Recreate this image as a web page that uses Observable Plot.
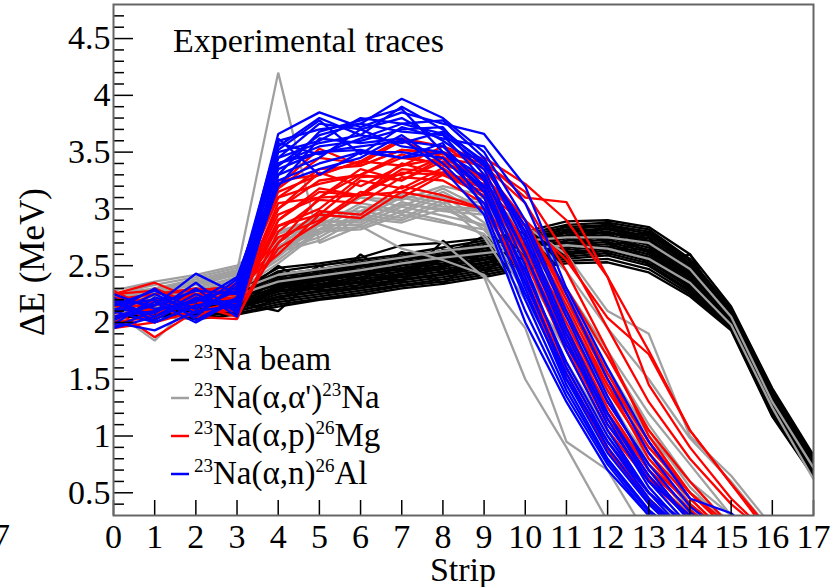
<!DOCTYPE html>
<html><head><meta charset="utf-8">
<script src="https://cdn.jsdelivr.net/npm/d3@7"></script>
<script src="https://cdn.jsdelivr.net/npm/@observablehq/plot@0.6"></script>
<style>
body{margin:0;background:#fff;}
svg{font-family:"Liberation Serif","Times New Roman",serif;}
</style>
</head><body><div id="chart"></div>
<script>
// ---------- data ----------
const strips = [0,1,2,3,4,5,6,7,8,9,10,11,12,13,14,15,16,17];

// 23Na beam (black)
const beamTraces = [
 [2.22,2.20,2.25,2.28,2.48,2.52,2.57,2.68,2.70,2.74,2.80,2.89,2.90,2.84,2.60,2.14,1.42,0.83],
 [2.20,2.22,2.20,2.26,2.45,2.50,2.55,2.60,2.66,2.72,2.78,2.86,2.88,2.82,2.56,2.12,1.40,0.82],
 [2.18,2.20,2.22,2.25,2.42,2.47,2.53,2.58,2.63,2.70,2.76,2.84,2.86,2.80,2.55,2.10,1.38,0.80],
 [2.15,2.18,2.20,2.24,2.40,2.46,2.50,2.56,2.62,2.68,2.74,2.82,2.85,2.78,2.52,2.09,1.36,0.79],
 [2.20,2.15,2.18,2.22,2.38,2.44,2.49,2.55,2.60,2.66,2.73,2.80,2.83,2.76,2.50,2.08,1.35,0.78],
 [2.12,2.16,2.17,2.22,2.37,2.42,2.47,2.53,2.58,2.65,2.71,2.79,2.82,2.74,2.48,2.07,1.33,0.77],
 [2.14,2.13,2.20,2.20,2.35,2.40,2.46,2.52,2.57,2.63,2.70,2.77,2.80,2.72,2.46,2.06,1.32,0.76],
 [2.10,2.15,2.14,2.21,2.34,2.39,2.44,2.50,2.55,2.62,2.68,2.76,2.79,2.70,2.44,2.05,1.30,0.75],
 [2.16,2.10,2.16,2.18,2.32,2.38,2.43,2.48,2.54,2.60,2.67,2.74,2.77,2.68,2.42,2.04,1.29,0.74],
 [2.12,2.12,2.12,2.19,2.31,2.36,2.42,2.47,2.52,2.59,2.65,2.72,2.75,2.66,2.40,2.03,1.28,0.73],
 [2.08,2.14,2.15,2.16,2.30,2.34,2.40,2.45,2.50,2.57,2.63,2.70,2.73,2.64,2.38,2.02,1.27,0.72],
 [2.10,2.08,2.10,2.17,2.28,2.33,2.38,2.43,2.49,2.55,2.62,2.68,2.71,2.62,2.36,2.01,1.26,0.71],
 [2.13,2.10,2.13,2.15,2.27,2.31,2.36,2.42,2.47,2.53,2.60,2.66,2.69,2.60,2.34,2.00,1.25,0.70],
 [2.07,2.12,2.08,2.14,2.25,2.30,2.35,2.40,2.45,2.52,2.58,2.64,2.67,2.58,2.33,1.99,1.24,0.70],
 [2.10,2.06,2.11,2.13,2.23,2.28,2.33,2.38,2.43,2.50,2.56,2.62,2.65,2.56,2.31,1.98,1.23,0.69],
 [2.05,2.09,2.06,2.12,2.22,2.27,2.31,2.37,2.42,2.48,2.55,2.60,2.63,2.54,2.30,1.97,1.22,0.68],
 [2.08,2.05,2.10,2.10,2.20,2.25,2.30,2.35,2.40,2.46,2.53,2.58,2.61,2.52,2.28,1.96,1.21,0.67],
 [2.06,2.08,2.04,2.10,2.18,2.23,2.28,2.33,2.38,2.44,2.51,2.56,2.59,2.50,2.27,1.95,1.20,0.66],
 [2.05,2.05,2.07,2.08,2.16,2.21,2.26,2.32,2.36,2.42,2.49,2.54,2.56,2.47,2.25,1.94,1.18,0.65],
 [2.04,2.06,2.03,2.07,2.14,2.20,2.24,2.30,2.34,2.40,2.47,2.52,2.53,2.44,2.23,1.93,1.17,0.64],
 [2.15,2.12,2.20,2.18,2.10,2.42,2.30,2.52,2.34,2.62,2.56,2.82,2.60,2.75,2.30,2.06,1.30,0.75],
 [2.20,2.18,2.05,2.22,2.50,2.28,2.60,2.35,2.72,2.42,2.80,2.55,2.90,2.50,2.60,2.00,1.35,0.78],
 [2.12,2.16,2.10,2.20,2.44,2.36,2.50,2.45,2.60,2.55,2.70,2.68,2.78,2.62,2.42,2.02,1.28,0.72],
 [2.18,2.10,2.18,2.14,2.28,2.46,2.38,2.62,2.50,2.68,2.60,2.80,2.72,2.80,2.50,2.08,1.34,0.77],
 [2.08,2.20,2.12,2.24,2.33,2.30,2.52,2.40,2.48,2.66,2.52,2.72,2.84,2.68,2.38,2.00,1.24,0.69],
 [2.14,2.04,2.16,2.12,2.40,2.32,2.36,2.58,2.44,2.50,2.74,2.60,2.66,2.78,2.54,2.10,1.37,0.80],
 [2.06,2.14,2.08,2.16,2.20,2.38,2.44,2.36,2.64,2.46,2.62,2.86,2.70,2.56,2.44,1.99,1.22,0.68],
 [2.20,2.08,2.22,2.10,2.30,2.50,2.34,2.42,2.58,2.76,2.58,2.64,2.88,2.70,2.28,1.96,1.20,0.66]
];

// 23Na(a,a')23Na (grey)
const inelasticTraces = [
 [2.20,2.26,2.30,2.45,4.20,2.70,2.85,2.65,2.55,2.42,1.95,0.95,0.70,0.10],
 [2.28,2.36,2.42,2.50,2.78,2.90,3.10,3.02,3.18,3.00,2.75,2.20,1.60,0.95,0.40,0.10],
 [2.25,2.33,2.40,2.48,2.70,2.98,2.95,3.12,3.05,3.10,2.85,2.60,2.10,1.90,1.00,0.65,0.20],
 [2.22,2.30,2.38,2.46,2.75,2.85,3.05,2.98,3.15,2.95,2.70,2.30,1.75,1.20,0.75,0.30,0.10],
 [2.20,2.28,2.35,2.44,2.66,2.95,2.92,3.10,3.02,3.00,2.60,2.10,1.55,1.05,0.55,0.20],
 [2.18,2.26,2.33,2.42,2.72,2.82,3.02,2.96,3.12,2.88,2.50,1.95,1.40,0.85,0.35,0.10],
 [2.16,2.24,2.30,2.40,2.60,2.90,2.88,3.06,2.98,2.95,2.45,1.85,1.25,0.70,0.25],
 [2.15,2.22,2.28,2.38,2.68,2.78,2.98,2.92,3.08,2.82,2.35,1.75,1.15,0.60,0.20],
 [2.13,2.20,2.26,2.36,2.58,2.86,2.86,3.02,2.94,2.86,2.25,1.65,1.05,0.50,0.15],
 [2.12,2.18,2.24,2.34,2.64,2.75,2.95,2.90,3.05,2.75,2.20,1.60,1.00,0.45,0.10],
 [2.10,2.16,2.22,2.32,2.55,2.82,2.84,2.98,2.90,2.78,2.30,1.80,1.30,0.80,0.40,0.10],
 [2.08,2.14,2.20,2.30,2.62,2.72,2.92,2.88,3.00,2.85,2.55,2.05,1.50,0.90,0.50,0.25],
 [2.07,2.12,2.18,2.28,2.52,2.80,2.82,2.95,2.88,2.82,2.45,1.90,1.35,0.75,0.30],
 [2.25,2.30,2.36,2.45,2.80,2.92,3.10,3.08,3.20,3.12,2.80,2.45,1.95,1.50,0.98,0.60,0.15],
 [2.20,2.28,2.34,2.43,2.74,2.96,2.98,3.14,3.10,3.05,2.65,2.15,1.60,1.00,0.60,0.30],
 [2.10,1.84,2.20,2.30,2.58,2.88,2.90,3.04,3.00,2.98,2.65,2.25,1.70,1.10,0.60,0.20],
 [2.15,2.20,2.27,2.37,2.62,2.82,2.92,2.80,2.70,2.40,1.50,0.90,0.25],
 [2.20,2.22,2.25,2.28,2.42,2.47,2.52,2.57,2.63,2.67,2.72,2.75,2.75,2.70,2.47,2.05,1.30,0.72],
 [2.15,2.18,2.20,2.24,2.36,2.41,2.46,2.52,2.57,2.61,2.65,2.68,2.65,2.56,2.35,1.98,1.25,0.62]
];

// 23Na(a,p)26Mg (red)
const protonTraces = [
 [2.25,2.35,2.20,2.30,3.25,3.30,3.42,3.38,3.55,3.42,3.10,3.06,2.40,1.45,0.90,0.45,0.10],
 [2.20,2.25,2.28,2.32,3.20,3.53,3.38,3.52,3.48,3.45,3.22,2.90,2.40,1.75,1.05,0.58,0.15],
 [2.15,2.20,2.25,2.25,3.15,3.30,3.42,3.62,3.55,3.35,2.90,2.20,1.50,0.95,0.50,0.20],
 [2.10,2.30,2.15,2.28,3.10,3.22,3.30,3.48,3.38,3.30,2.80,2.10,1.40,0.85,0.45,0.10],
 [2.28,2.10,2.20,2.22,3.00,3.32,3.20,3.38,3.45,3.25,2.70,2.00,1.30,0.75,0.40,0.10],
 [2.05,2.15,2.22,2.20,2.95,3.10,3.35,3.25,3.42,3.20,2.65,1.90,1.20,0.70,0.35,0.05],
 [2.12,1.87,2.10,2.18,2.90,3.18,3.12,3.40,3.30,3.15,2.60,1.85,1.15,0.65,0.30],
 [2.00,2.05,2.18,2.15,2.85,2.95,3.25,3.18,3.36,3.10,2.55,1.75,1.05,0.60,0.28],
 [2.18,2.12,2.05,2.03,2.80,3.08,3.05,3.28,3.25,3.05,2.45,1.60,0.95,0.50,0.20],
 [2.08,2.20,2.12,2.28,2.75,2.90,3.15,3.10,3.30,3.12,2.70,2.05,1.45,0.90,0.50,0.15],
 [1.98,2.08,2.20,2.25,2.70,2.98,2.95,3.20,3.12,3.00,2.40,1.55,0.90,0.45,0.10],
 [2.22,2.18,2.10,2.12,2.65,2.88,3.12,3.15,3.32,3.18,2.85,2.30,1.70,1.05,0.60,0.20],
 [2.15,2.02,2.25,2.30,2.60,2.95,2.92,3.15,3.08,3.00,2.35,1.50,0.88,0.40,0.10],
 [2.05,2.12,2.05,2.20,3.05,3.10,3.30,3.25,3.45,3.28,2.90,2.25,1.55,0.95,0.45,0.10],
 [2.25,2.28,2.15,2.35,3.18,3.45,3.40,3.60,3.45,3.38,3.05,2.45,1.75,1.00,0.50,0.15],
 [1.95,2.00,2.10,2.10,2.90,3.15,3.12,3.32,3.30,3.20,2.60,1.80,1.10,0.62,0.30],
 [2.10,2.25,2.30,2.25,3.00,3.25,3.30,3.45,3.40,3.30,2.85,2.15,1.45,0.80,0.40,0.10],
 [2.20,2.10,2.15,2.05,2.70,3.10,3.12,3.35,3.32,3.22,2.90,2.55,2.04,1.72,1.05,0.58,0.10],
 [2.00,2.18,2.25,2.18,2.85,3.00,3.28,3.30,3.46,3.25,2.65,1.95,1.25,0.70,0.35,0.05],
 [2.15,2.05,2.28,2.32,3.10,3.35,3.38,3.52,3.50,3.40,3.15,2.60,1.95,1.30,0.80,0.40,0.10]
];

// 23Na(a,n)26Al (blue)
const neutronTraces = [
 [2.10,2.00,2.15,2.20,3.60,3.70,3.75,3.97,3.80,3.50,2.90,2.10,1.35,0.70,0.25],
 [2.20,2.15,2.43,2.25,3.66,3.85,3.72,3.85,3.75,3.66,3.20,2.30,1.60,0.95,0.45,0.32,0.00],
 [2.05,2.10,2.20,2.30,3.55,3.80,3.65,3.90,3.70,3.40,2.80,1.95,1.20,0.60,0.20],
 [2.00,1.93,2.10,2.15,3.50,3.60,3.80,3.75,3.78,3.45,2.75,1.90,1.15,0.55,0.15],
 [2.15,2.20,2.05,2.35,3.45,3.75,3.70,3.80,3.60,3.35,2.60,1.75,1.05,0.50,0.10],
 [1.95,2.05,2.25,2.10,3.40,3.55,3.60,3.70,3.72,3.30,2.50,1.60,0.95,0.45,0.10],
 [2.25,2.12,2.18,2.40,3.38,3.65,3.75,3.68,3.65,3.25,2.40,1.50,0.85,0.40,0.05],
 [2.02,2.18,2.00,2.20,3.35,3.50,3.55,3.60,3.55,3.20,2.30,1.45,0.80,0.35,0.05],
 [2.12,2.08,2.30,2.05,3.30,3.45,3.70,3.55,3.50,3.15,2.35,1.55,0.90,0.42,0.10],
 [1.98,2.22,2.12,2.28,3.25,3.40,3.50,3.50,3.45,3.10,2.20,1.40,0.78,0.33,0.05],
 [2.18,2.02,2.22,2.12,3.22,3.35,3.45,3.65,3.40,3.05,2.25,1.50,0.95,0.50,0.20],
 [2.08,2.25,2.08,2.32,3.62,3.30,3.50,3.45,3.58,3.00,2.10,1.35,0.75,0.30,0.00],
 [2.22,2.00,2.15,2.18,3.20,3.62,3.58,3.62,3.35,2.95,2.00,1.30,0.70,0.30],
 [2.05,2.15,2.28,2.25,3.52,3.78,3.48,3.72,3.62,3.55,3.05,2.25,1.50,0.85,0.38,0.10],
 [2.15,2.28,2.12,2.38,3.45,3.58,3.65,3.58,3.68,3.42,2.70,1.85,1.10,0.60,0.30],
 [1.96,2.10,2.35,2.08,3.30,3.68,3.78,3.88,3.50,3.28,2.60,1.80,1.20,0.65,0.25],
 [2.10,2.30,2.02,2.22,3.58,3.48,3.62,3.75,3.66,3.38,2.85,2.05,1.30,0.75,0.33,0.05],
 [2.20,2.05,2.20,2.15,3.40,3.50,3.52,3.45,3.50,3.18,2.45,1.65,1.00,0.50,0.20]
];

const xTicks = [0,1,2,3,4,5,6,7,8,9,10,11,12,13,14,15,16,17];
const yMajorTicks = [0.5,1,1.5,2,2.5,3,3.5,4,4.5];
const yMinorTicks = [0.4,0.6,0.7,0.8,0.9,1.1,1.2,1.3,1.4,1.6,1.7,1.8,1.9,2.1,2.2,2.3,2.4,2.6,2.7,2.8,2.9,3.1,3.2,3.3,3.4,3.6,3.7,3.8,3.9,4.1,4.2,4.3,4.4,4.6,4.7];

const groupNames = ["beam","inelastic","proton","neutron"];
const groupColors = ["#000000","#a0a0a0","#ff0000","#0000ff"];
const legendLabels = [
  [["sup","23"],["n","Na beam"]],
  [["sup","23"],["n","Na(\u03b1,\u03b1')"],["sup","23"],["n","Na"]],
  [["sup","23"],["n","Na(\u03b1,p)"],["sup","26"],["n","Mg"]],
  [["sup","23"],["n","Na(\u03b1,n)"],["sup","26"],["n","Al"]]
];
const titleText = "Experimental traces";
const xLabel = "Strip";
const yLabel = "\u0394E (MeV)";
const strayLabel = "7";

// ---------- build table ----------
const allGroups = [beamTraces, inelasticTraces, protonTraces, neutronTraces];
const rows = [];
allGroups.forEach((traces, g) => {
  traces.forEach((tr, i) => {
    tr.forEach((v, j) => rows.push({group: groupNames[g], id: groupNames[g] + i, strip: strips[j], dE: v}));
  });
});

const lineMarks = groupNames.map((name, g) =>
  Plot.line(rows.filter(d => d.group === name), {
    x: "strip", y: "dE", z: "id", stroke: groupColors[g],
    strokeWidth: 2.3, strokeLinejoin: "miter", strokeLinecap: "butt", clip: true
  })
);

const FONT = "'Liberation Serif', 'Times New Roman', serif";
const plot = Plot.plot({
  width: 835, height: 587,
  marginLeft: 113, marginRight: 22, marginTop: 4, marginBottom: 72,
  style: {fontFamily: FONT, background: "white", color: "black", overflow: "visible"},
  x: {domain: [0, 17]},
  y: {domain: [0.3, 4.8]},
  marks: [
    ...lineMarks,
    Plot.tickY(yMinorTicks, {y: d => d, insetRight: 689, stroke: "black", strokeWidth: 1.5}),
    Plot.tickY(yMajorTicks, {y: d => d, insetRight: 680, stroke: "black", strokeWidth: 1.5}),
    Plot.tickX(xTicks, {x: d => d, insetTop: 496, stroke: "black", strokeWidth: 1.5}),
    Plot.axisY(yMajorTicks, {tickSize: 0, tickPadding: 3, fontSize: 34, label: null, tickFormat: d => String(d)}),
    Plot.axisX(xTicks, {tickSize: 0, tickPadding: 8, fontSize: 34, label: null, tickFormat: d => String(d)}),
    Plot.frame({stroke: "#666666", strokeWidth: 2})
  ]
});

// ---------- free text: title, axis titles, legend ----------
const svg = d3.select(plot);
const tg = svg.append("g").attr("font-family", FONT).attr("fill", "black");
tg.append("text").attr("x", 173).attr("y", 52).attr("text-anchor", "start").attr("font-size", 34).text(titleText);
tg.append("text").attr("x", 463).attr("y", 581).attr("text-anchor", "middle").attr("font-size", 34).text(xLabel);
tg.append("text").attr("transform", "translate(44,262) rotate(-90)").attr("text-anchor", "middle").attr("font-size", 35).text(yLabel);
tg.append("text").attr("x", 10).attr("y", 547).attr("text-anchor", "end").attr("font-size", 34).text(strayLabel);

const legendBaselines = [370, 408, 446, 484];
legendLabels.forEach((parts, i) => {
  const yb = legendBaselines[i];
  tg.append("line").attr("x1", 171).attr("x2", 189).attr("y1", yb - 10).attr("y2", yb - 10)
    .attr("stroke", groupColors[i]).attr("stroke-width", 2.5);
  const t = tg.append("text").attr("x", 194).attr("y", yb).attr("text-anchor", "start").attr("font-size", 33);
  let raised = false;
  parts.forEach(([kind, str]) => {
    const ts = t.append("tspan").text(str);
    if (kind === "sup") { ts.attr("font-size", 19).attr("dy", raised ? 0 : -12); raised = true; }
    else { ts.attr("dy", raised ? 12 : 0); raised = false; }
  });
});

document.getElementById("chart").appendChild(plot);
</script>
</body></html>
